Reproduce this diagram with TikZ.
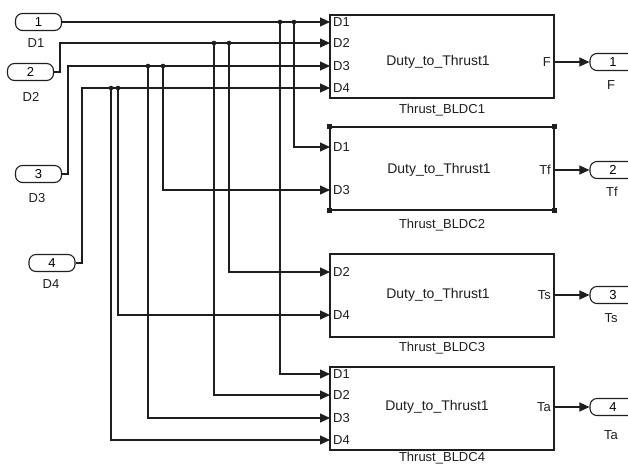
\documentclass[tikz,border=0pt]{standalone}
\usepackage{fontspec}
\setmainfont{Liberation Sans}
\usetikzlibrary{arrows.meta}
\definecolor{ink}{HTML}{1E1E1E}
\tikzset{
  sig/.style={draw=ink, line width=1.2pt, -{Triangle[length=10pt,width=9pt]}},
  wire/.style={draw=ink, line width=1.2pt},
  blockbox/.style={draw=ink, rectangle, minimum width=224pt, minimum height=83pt, inner sep=0pt},
  iport/.style={draw=ink, line width=1.1pt, rectangle, rounded corners=7pt, minimum width=46pt, minimum height=17pt, inner sep=0pt, font=\fontsize{13}{14}\selectfont},
  lbl/.style={font=\fontsize{13}{14}\selectfont, inner sep=0pt, text=ink},
  ctext/.style={font=\fontsize{14}{16}\selectfont, inner sep=0pt, text=ink},
  plbl/.style={lbl, anchor=west},
  olbl/.style={lbl, anchor=east},
  dot/.style={fill=ink},
  handle/.style={fill=ink}
}
\begin{document}
\begin{tikzpicture}[x=1pt,y=-1pt]
\useasboundingbox (0,0) rectangle (628,466);
% inports
\node[iport] (in1) at (38.5,22) {1};
\node[lbl] (in1l) at (36,43) {D1};
\node[iport] (in2) at (30.5,72) {2};
\node[lbl] (in2l) at (31,97) {D2};
\node[iport] (in3) at (38.5,174) {3};
\node[lbl] (in3l) at (37,198) {D3};
\node[iport] (in4) at (52,263) {4};
\node[lbl] (in4l) at (51,284) {D4};
% blocks
\node[blockbox, line width=2.4pt] (b1) at (442,56.5) {};
\node[blockbox, line width=1.3pt] (b2) at (442,168.5) {};
\node[blockbox, line width=2pt] (b3) at (442,295) {};
\node[blockbox, line width=2.4pt] (b4) at (442,408.5) {};
\foreach \c in {north west,north east,south west,south east}
  \fill[handle] (b2.\c) ++(-2.2,-2.2) rectangle ++(4.4,4.4);
\node[ctext] (b1t) at (438,62) {Duty\_to\_Thrust1};
\node[ctext] (b2t) at (439,170) {Duty\_to\_Thrust1};
\node[ctext] (b3t) at (438,295) {Duty\_to\_Thrust1};
\node[ctext] (b4t) at (437,407) {Duty\_to\_Thrust1};
\node[lbl] (b1n) at (442,110) {Thrust\_BLDC1};
\node[lbl] (b2n) at (442,225) {Thrust\_BLDC2};
\node[lbl] (b3n) at (442,348) {Thrust\_BLDC3};
\node[lbl] (b4n) at (442,458) {Thrust\_BLDC4};
% port coordinates
\coordinate (b1p1) at (330,22);
\coordinate (b1p2) at (330,43);
\coordinate (b1p3) at (330,66);
\coordinate (b1p4) at (330,88);
\coordinate (b2p1) at (330,147);
\coordinate (b2p3) at (330,190);
\coordinate (b3p2) at (330,272);
\coordinate (b3p4) at (330,315);
\coordinate (b4p1) at (330,374);
\coordinate (b4p2) at (330,395);
\coordinate (b4p3) at (330,418);
\coordinate (b4p4) at (330,440);
% port labels
\node[plbl] at (333,22) {D1};
\node[plbl] at (333,43) {D2};
\node[plbl] at (333,66) {D3};
\node[plbl] at (333,88) {D4};
\node[plbl] at (333,147) {D1};
\node[plbl] at (333,190) {D3};
\node[plbl] at (333,272) {D2};
\node[plbl] at (333,315) {D4};
\node[plbl] at (333,374) {D1};
\node[plbl] at (333,395) {D2};
\node[plbl] at (333,418) {D3};
\node[plbl] at (333,440) {D4};
\node[olbl] at (551,62) {F};
\node[olbl] at (551,170) {Tf};
\node[olbl] at (551,295) {Ts};
\node[olbl] at (551,407) {Ta};
% outports
\node[iport] (out1) at (613,62) {1};
\node[lbl] (out1l) at (611,85) {F};
\node[iport] (out2) at (613,170) {2};
\node[lbl] (out2l) at (612,192) {Tf};
\node[iport] (out3) at (613,295) {3};
\node[lbl] (out3l) at (611,318) {Ts};
\node[iport] (out4) at (613,407) {4};
\node[lbl] (out4l) at (611,435) {Ta};
\coordinate (o1) at (555,62);
\coordinate (o2) at (554,170);
\coordinate (o3) at (555,295);
\coordinate (o4) at (555,407);
\draw[sig] (o1) -- (out1.west);
\draw[sig] (o2) -- (out2.west);
\draw[sig] (o3) -- (out3.west);
\draw[sig] (o4) -- (out4.west);
% main signal lines
\draw[sig] (in1.east) -- (b1p1);
\draw[sig] (in2.east) -- (60,72) |- (b1p2);
\draw[sig] (in3.east) -- (68,174) |- (b1p3);
\draw[sig] (in4.east) -- (82,263) |- (b1p4);
% junctions
\coordinate (j1a) at (280,22);
\coordinate (j1b) at (294,22);
\coordinate (j2a) at (214,43);
\coordinate (j2b) at (229,43);
\coordinate (j3a) at (148,66);
\coordinate (j3b) at (163,66);
\coordinate (j4a) at (111,88);
\coordinate (j4b) at (118,88);
\draw[sig] (j1a) |- (b4p1);
\draw[sig] (j1b) |- (b2p1);
\draw[sig] (j2a) |- (b4p2);
\draw[sig] (j2b) |- (b3p2);
\draw[sig] (j3a) |- (b4p3);
\draw[sig] (j3b) |- (b2p3);
\draw[sig] (j4a) |- (b4p4);
\draw[sig] (j4b) |- (b3p4);
\foreach \j in {j1a,j1b,j2a,j2b,j3a,j3b,j4a,j4b}
  \fill[dot] (\j) circle (2.3pt);
\end{tikzpicture}
\end{document}
